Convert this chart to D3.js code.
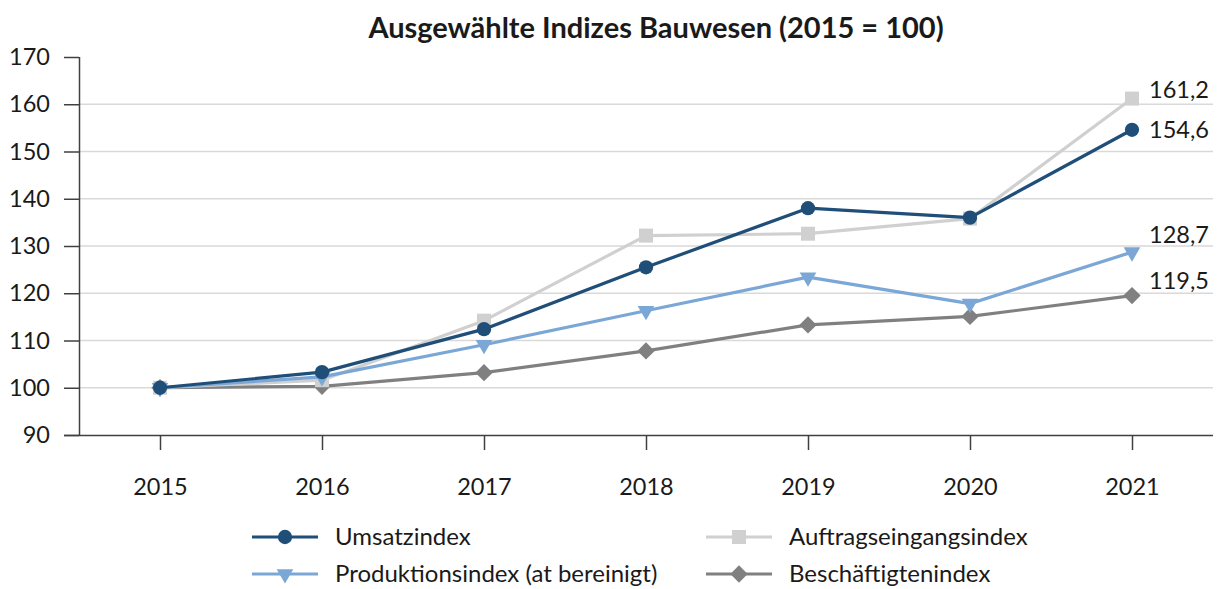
<!DOCTYPE html>
<html>
<head>
<meta charset="utf-8">
<script src="https://cdn.jsdelivr.net/npm/d3@7"></script>
<style>
  body { margin: 0; background: #fff; }
  svg text { font-family: Lato, "Open Sans", sans-serif; fill: #1a1a1a; }
</style>
</head>
<body>
<div id="chart"></div>
<script>
const years = ["2015", "2016", "2017", "2018", "2019", "2020", "2021"];
const umsatz = [100, 103.3, 112.4, 125.5, 138.0, 136.0, 154.6];
const auftrag = [100, 101.6, 114.2, 132.2, 132.6, 135.8, 161.2];
const produktion = [100, 102.3, 109.1, 116.3, 123.4, 117.8, 128.7];
const beschaeftigte = [100, 100.3, 103.2, 107.8, 113.3, 115.1, 119.5];
const seriesNames = ["Umsatzindex", "Auftragseingangsindex", "Produktionsindex (at bereinigt)", "Beschäftigtenindex"];
const yTicks = [90, 100, 110, 120, 130, 140, 150, 160, 170];

const W = 1217, H = 589;
const plotLeft = 79, plotRight = 1213, plotTop = 57, plotBottom = 435;
const fontSize = "23.5px";

const svg = d3.select("#chart").append("svg")
    .attr("width", W).attr("height", H);

const x = d3.scalePoint().domain(years).range([plotLeft, plotRight]).padding(0.5);
const y = d3.scaleLinear().domain([90, 170]).range([plotBottom, plotTop]);

// title
svg.append("text")
    .attr("x", 656).attr("y", 38)
    .attr("text-anchor", "middle")
    .style("font-size", "29px").style("font-weight", "bold")
    .text("Ausgewählte Indizes Bauwesen (2015 = 100)");

// grid
svg.append("g")
    .selectAll("line")
    .data(yTicks.slice(1, -1))
    .enter().append("line")
    .attr("x1", plotLeft).attr("x2", plotRight)
    .attr("y1", d => y(d)).attr("y2", d => y(d))
    .attr("stroke", "#d9d9d9").attr("stroke-width", 1.5);

// y axis
const yAxis = svg.append("g")
    .attr("transform", `translate(${plotLeft},0)`)
    .call(d3.axisLeft(y).tickValues(yTicks).tickSize(15).tickPadding(14).tickFormat(d3.format("d")));
yAxis.select(".domain").attr("stroke", "#404040").attr("stroke-width", 1.5).attr("d", `M0.5,${plotTop}V${plotBottom}`);
yAxis.selectAll(".tick line").attr("stroke", "#404040").attr("stroke-width", 1.5);
yAxis.selectAll("text").style("font-size", fontSize).attr("fill", "#1a1a1a");

// x axis
const xAxis = svg.append("g")
    .attr("transform", `translate(0,${plotBottom})`)
    .call(d3.axisBottom(x).tickSize(15).tickPadding(28));
xAxis.select(".domain").attr("stroke", "#404040").attr("stroke-width", 1.5).attr("d", `M${plotLeft - 15},0.5H${plotRight}`);
xAxis.selectAll(".tick line").attr("stroke", "#404040").attr("stroke-width", 1.5);
xAxis.selectAll("text").style("font-size", fontSize).attr("fill", "#1a1a1a");

const series = [
  { name: seriesNames[0], values: umsatz, color: "#1f4e79", shape: d3.symbolCircle, size: 160, rot: 0, dy: 0 },
  { name: seriesNames[1], values: auftrag, color: "#d0d0d0", shape: d3.symbolSquare, size: 196, rot: 0, dy: -9 },
  { name: seriesNames[2], values: produktion, color: "#7aa7d6", shape: d3.symbolTriangle, size: 120, rot: 180, dy: -17 },
  { name: seriesNames[3], values: beschaeftigte, color: "#808080", shape: d3.symbolSquare, size: 150, rot: 45, dy: -15 }
];

const line = d3.line()
    .x((d, i) => x(years[i]))
    .y(d => y(d));

// draw in order so the dark blue sits on top
const drawOrder = [3, 1, 2, 0];
drawOrder.forEach(k => {
  const s = series[k];
  const g = svg.append("g");
  g.append("path")
      .datum(s.values)
      .attr("fill", "none")
      .attr("stroke", s.color)
      .attr("stroke-width", 3.2)
      .attr("stroke-linejoin", "round")
      .attr("d", line);
  g.selectAll("path.m")
      .data(s.values)
      .enter().append("path")
      .attr("class", "m")
      .attr("d", d3.symbol().type(s.shape).size(s.size))
      .attr("fill", s.color)
      .attr("transform", (d, i) => `translate(${x(years[i])},${y(d)}) rotate(${s.rot})`);
});

// end labels
series.forEach(s => {
  const v = s.values[s.values.length - 1];
  svg.append("text")
      .attr("x", x(years[years.length - 1]) + 17)
      .attr("y", y(v) + s.dy)
      .attr("dy", "0.35em")
      .style("font-size", fontSize)
      .text(d3.format(".1f")(v).replace(".", ","));
});

// legend
const legendPos = [[252, 537], [706, 537], [252, 574], [706, 574]];
series.forEach((s, i) => {
  const [lx, ly] = legendPos[i];
  const g = svg.append("g").attr("transform", `translate(${lx},${ly})`);
  g.append("line").attr("x1", 0).attr("x2", 66).attr("y1", 0).attr("y2", 0)
      .attr("stroke", s.color).attr("stroke-width", 3.2);
  g.append("path")
      .attr("d", d3.symbol().type(s.shape).size(s.size))
      .attr("fill", s.color)
      .attr("transform", `translate(33,0) rotate(${s.rot})`);
  g.append("text")
      .attr("x", 83).attr("y", 0).attr("dy", "0.35em")
      .style("font-size", "24px")
      .text(s.name);
});
</script>
</body>
</html>
